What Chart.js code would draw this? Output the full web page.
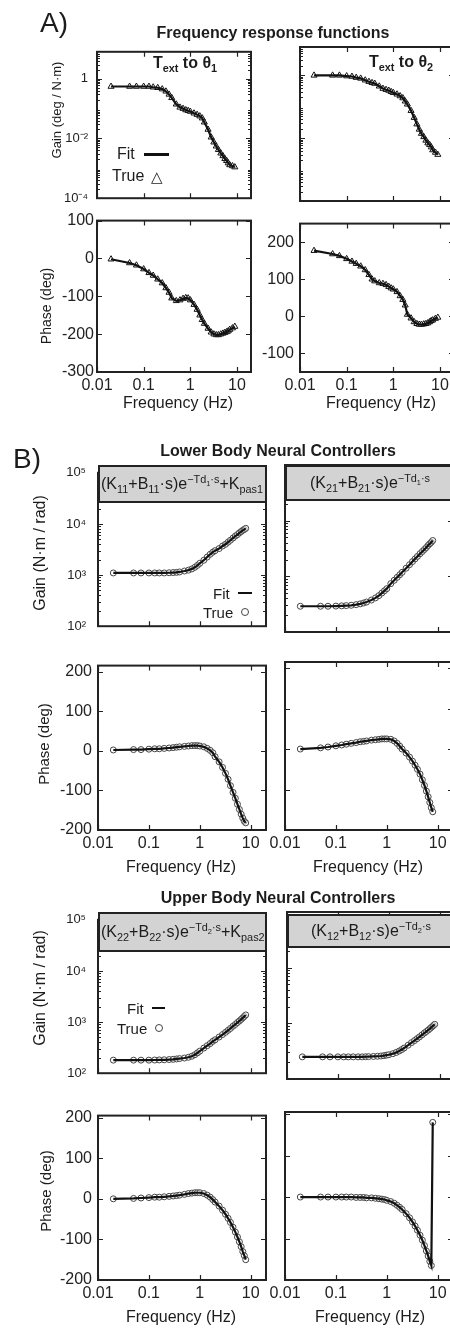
<!DOCTYPE html>
<html>
<head>
<meta charset="utf-8">
<title>Frequency response functions</title>
<script src="https://cdn.jsdelivr.net/npm/chart.js@4.4.1/dist/chart.umd.min.js"></script>
<style>
  html, body { margin: 0; padding: 0; background: #fff; }
  body { position: relative; width: 450px; height: 1328px; overflow: hidden;
         font-family: "Liberation Sans", Arial, sans-serif; color: #1c1c1c; }
  canvas { position: absolute; }
  .t { position: absolute; white-space: nowrap; line-height: 1; transform: translate(-50%, -50%); }
  .l { transform: translate(0, -50%); }
  .rot { transform: translate(-50%, -50%) rotate(-90deg); }
  .hd { position: absolute; box-sizing: border-box; border: 2px solid #222; background: #d3d3d3;
        overflow: hidden; white-space: nowrap; font-size: 16px; line-height: 1;
        display: flex; align-items: center; }
  sub, sup { font-size: 68%; line-height: 0; }
  .bar { position: absolute; background: #111; }
  .ring { position: absolute; box-sizing: border-box; border: 1.5px solid #444; border-radius: 50%; }
</style>
</head>
<body>
<script>
// ── data ──
const freqA = [0.02, 0.05, 0.07, 0.1, 0.13, 0.16, 0.2, 0.25, 0.3, 0.35, 0.4, 0.5, 0.6, 0.7, 0.8, 0.9, 1.0, 1.2, 1.4, 1.6, 1.8, 2.0, 2.4, 2.8, 3.2, 3.6, 4.0, 4.5, 5.0, 5.5, 6.0, 6.5, 7.0, 8.0, 9.0];
const freqB = [0.02, 0.05, 0.07, 0.1, 0.13, 0.16, 0.2, 0.25, 0.3, 0.35, 0.4, 0.5, 0.6, 0.7, 0.8, 0.9, 1.0, 1.2, 1.4, 1.6, 1.8, 2.0, 2.4, 2.8, 3.2, 3.6, 4.0, 4.5, 5.0, 5.5, 6.0, 6.5, 7.0, 7.5, 8.0];

const gainTheta1 = [0.55, 0.55, 0.55, 0.55, 0.55, 0.52, 0.5, 0.45, 0.38, 0.3, 0.23, 0.14, 0.11, 0.1, 0.09, 0.085, 0.08, 0.07, 0.063, 0.056, 0.048, 0.035, 0.02, 0.011, 0.0075, 0.0055, 0.0042, 0.0032, 0.0026, 0.0021, 0.0018, 0.0015, 0.0013, 0.0012, 0.0011];
const gainTheta2 = [1.0, 1.0, 1.0, 0.95, 0.92, 0.85, 0.8, 0.7, 0.63, 0.58, 0.55, 0.45, 0.38, 0.35, 0.33, 0.3, 0.28, 0.25, 0.22, 0.19, 0.15, 0.12, 0.075, 0.045, 0.028, 0.019, 0.014, 0.011, 0.0085, 0.007, 0.0062, 0.0052, 0.0042, 0.0035, 0.003];
const phaseTheta1 = [-2, -12, -18, -28, -38, -45, -55, -65, -78, -90, -105, -112, -110, -106, -104, -105, -110, -122, -135, -150, -162, -172, -185, -195, -200, -202, -202, -200, -198, -196, -194, -192, -188, -184, -180];
const phaseTheta2 = [177, 168, 163, 155, 148, 142, 135, 125, 112, 100, 95, 90, 88, 85, 80, 76, 73, 66, 55, 45, 30, 5, -5, -15, -20, -22, -22, -21, -20, -18, -15, -12, -10, -6, -3];

const gainK11 = [1100, 1100, 1100, 1100, 1100, 1100, 1100, 1110, 1120, 1130, 1150, 1200, 1250, 1320, 1420, 1550, 1700, 1950, 2250, 2550, 2800, 3000, 3300, 3700, 4000, 4400, 4800, 5300, 5800, 6200, 6700, 7100, 7500, 7800, 8200];
const gainK21 = [290, 290, 290, 292, 295, 298, 302, 310, 320, 332, 345, 375, 410, 450, 500, 550, 600, 740, 850, 960, 1070, 1180, 1400, 1620, 1840, 2060, 2280, 2550, 2800, 3050, 3300, 3600, 3850, 4100, 4400];
const phaseK11 = [2, 3, 3, 4, 5, 5, 6, 7, 8, 9, 10, 11, 12, 13, 13, 13, 12, 10, 6, 1, -5, -15, -28, -42, -57, -72, -88, -105, -120, -135, -148, -160, -170, -178, -182];
const phaseK21 = [0, 3, 5, 8, 10, 12, 14, 16, 18, 19, 20, 22, 23, 24, 25, 25, 25, 24, 20, 14, 7, 0, -10, -20, -30, -40, -50, -62, -76, -90, -104, -118, -132, -145, -155];

const gainK22 = [180, 180, 180, 180, 181, 182, 183, 185, 187, 190, 193, 198, 205, 215, 230, 250, 270, 310, 345, 380, 420, 450, 510, 570, 630, 690, 750, 830, 900, 980, 1050, 1130, 1210, 1290, 1380];
const gainK12 = [250, 250, 250, 250, 250, 250, 250, 250, 250, 251, 252, 254, 256, 259, 263, 268, 273, 285, 300, 318, 338, 360, 405, 450, 490, 530, 570, 620, 670, 715, 760, 810, 860, 910, 960];
const phaseK22 = [0, 1, 2, 3, 4, 4, 5, 6, 7, 8, 9, 11, 13, 14, 15, 15, 15, 13, 9, 4, -2, -8, -18, -28, -38, -48, -58, -70, -82, -94, -106, -118, -130, -140, -150];
const phaseK12 = [0, 0, 0, 0, 0, 0, 0, -1, -1, -1, -2, -2, -3, -4, -5, -6, -8, -11, -15, -20, -25, -30, -40, -50, -60, -70, -80, -92, -104, -117, -130, -142, -155, -165, 180];

// ── tick labels ──
const xTicks = [0.01, 0.1, 1, 10];
const xTickText = ['0.01', '0.1', '1', '10'];
const gainTicksA = [1e-4, 1e-2, 1];
const gainTextA = ['10⁻⁴', '10⁻²', '1'];
const gainTicksB = [1e2, 1e3, 1e4, 1e5];
const gainTextB = ['10²', '10³', '10⁴', '10⁵'];
const phaseTicksA1 = [-300, -200, -100, 0, 100];
const phaseTicksA2 = [-100, 0, 100, 200];
const phaseTicksB = [-200, -100, 0, 100, 200];

// ── axis setups ──
const axes = {
  gainA:   { type: 'logarithmic', min: 1e-4, max: 8,   ticks: gainTicksA,   text: gainTextA, pad: 9,  size: 13 },
  phaseA1: { type: 'linear',      min: -300, max: 100, ticks: phaseTicksA1, pad: 3,  size: 16 },
  phaseA2: { type: 'linear',      min: -150, max: 250, ticks: phaseTicksA2, pad: 6,  size: 16 },
  gainB:   { type: 'logarithmic', min: 100,  max: 1e5, ticks: gainTicksB,   text: gainTextB, pad: 12, size: 13 },
  phaseB1: { type: 'linear',      min: -200, max: 215, ticks: phaseTicksB,  pad: 6,  size: 16 },
  phaseB2: { type: 'linear',      min: -200, max: 205, ticks: phaseTicksB,  pad: 6,  size: 16 }
};

// plot boxes (page px)
const panels = [
  { L: 97,  T: 47,   R: 252, B: 201,  x: freqA, y: gainTheta1,  ax: 'gainA',   yLab: true,  xLab: false, mark: 'triangle' },
  { L: 300, T: 47,   R: 455, B: 201,  x: freqA, y: gainTheta2,  ax: 'gainA',   yLab: false, xLab: false, mark: 'triangle' },
  { L: 97,  T: 220,  R: 252, B: 372,  x: freqA, y: phaseTheta1, ax: 'phaseA1', yLab: true,  xLab: true,  mark: 'triangle' },
  { L: 300, T: 220,  R: 455, B: 372,  x: freqA, y: phaseTheta2, ax: 'phaseA2', yLab: true,  xLab: true,  mark: 'triangle' },
  { L: 98,  T: 465,  R: 267, B: 632,  x: freqB, y: gainK11,     ax: 'gainB',   yLab: true,  xLab: false, mark: 'circle' },
  { L: 285, T: 465,  R: 454, B: 632,  x: freqB, y: gainK21,     ax: 'gainB',   yLab: false, xLab: false, mark: 'circle' },
  { L: 98,  T: 662,  R: 267, B: 830,  x: freqB, y: phaseK11,    ax: 'phaseB1', yLab: true,  xLab: true,  mark: 'circle' },
  { L: 285, T: 662,  R: 454, B: 830,  x: freqB, y: phaseK21,    ax: 'phaseB1', yLab: false, xLab: true,  mark: 'circle' },
  { L: 98,  T: 912,  R: 267, B: 1079, x: freqB, y: gainK22,     ax: 'gainB',   yLab: true,  xLab: false, mark: 'circle' },
  { L: 287, T: 912,  R: 456, B: 1079, x: freqB, y: gainK12,     ax: 'gainB',   yLab: false, xLab: false, mark: 'circle' },
  { L: 98,  T: 1112, R: 267, B: 1280, x: freqB, y: phaseK22,    ax: 'phaseB2', yLab: true,  xLab: true,  mark: 'circle' },
  { L: 285, T: 1112, R: 454, B: 1280, x: freqB, y: phaseK12,    ax: 'phaseB2', yLab: false, xLab: true,  mark: 'circle' }
];

// box + inward ticks, MATLAB style
const framePlugin = {
  id: 'frame',
  afterDraw(chart) {
    const { ctx, chartArea: a, scales: { x, y } } = chart;
    ctx.save();
    ctx.strokeStyle = '#222';
    ctx.lineWidth = 1.2;
    ctx.beginPath();
    x.ticks.forEach(t => {
      const px = Math.round(x.getPixelForValue(t.value)) + 0.5;
      ctx.moveTo(px, a.bottom); ctx.lineTo(px, a.bottom - 5);
      ctx.moveTo(px, a.top); ctx.lineTo(px, a.top + 5);
    });
    y.ticks.forEach(t => {
      const py = Math.round(y.getPixelForValue(t.value)) + 0.5;
      ctx.moveTo(a.left, py); ctx.lineTo(a.left + 5, py);
      ctx.moveTo(a.right, py); ctx.lineTo(a.right - 5, py);
    });
    if (y.type === 'logarithmic') {
      const e0 = Math.floor(Math.log10(y.min)), e1 = Math.ceil(Math.log10(y.max));
      for (let e = e0; e <= e1; e++) {
        for (let k = 2; k <= 9; k++) {
          const v = k * Math.pow(10, e);
          if (v <= y.min || v >= y.max) continue;
          const py = Math.round(y.getPixelForValue(v)) + 0.5;
          ctx.moveTo(a.left, py); ctx.lineTo(a.left + 3, py);
          ctx.moveTo(a.right, py); ctx.lineTo(a.right - 3, py);
        }
      }
    }
    ctx.stroke();
    ctx.lineWidth = 2;
    ctx.strokeRect(a.left, a.top, a.right - a.left, a.bottom - a.top);
    ctx.restore();
  }
};

function makePanel(p) {
  const ax = axes[p.ax];
  const yw = p.yLab ? 70 : 40, pt = 12, pr = 4, xh = p.xLab ? 30 : 14;
  const w = yw + (p.R - p.L) + pr, h = pt + (p.B - p.T) + xh;
  const cv = document.createElement('canvas');
  cv.width = w; cv.height = h;
  cv.style.left = (p.L - yw) + 'px';
  cv.style.top = (p.T - pt) + 'px';
  cv.style.width = w + 'px';
  cv.style.height = h + 'px';
  document.body.appendChild(cv);
  const pts = p.x.map((f, i) => ({ x: f, y: p.y[i] }));
  new Chart(cv.getContext('2d'), {
    type: 'scatter',
    data: {
      datasets: [
        { label: 'Fit', data: pts, showLine: true, pointRadius: 0, borderColor: '#111', borderWidth: 2.2, tension: 0 },
        { label: 'True', data: pts, showLine: false, pointStyle: p.mark,
          pointRadius: p.mark === 'triangle' ? 3.5 : 3, borderWidth: 1,
          pointBorderColor: p.mark === 'triangle' ? '#111' : '#444', pointBackgroundColor: 'rgba(255,255,255,0.5)' }
      ]
    },
    options: {
      responsive: false, animation: false,
      layout: { padding: { top: pt, right: pr, left: 0, bottom: 0 } },
      plugins: { legend: { display: false }, tooltip: { enabled: false } },
      scales: {
        x: {
          type: 'logarithmic', min: 0.01, max: 20,
          grid: { display: false, drawTicks: false }, border: { display: false },
          afterBuildTicks: s => { s.ticks = xTicks.map(v => ({ value: v })); },
          afterFit: s => { s.height = xh; },
          ticks: { display: p.xLab, autoSkip: false, maxRotation: 0, padding: 4, color: '#222',
                   font: { size: 16, family: '"Liberation Sans", Arial, sans-serif' },
                   callback: v => xTickText[xTicks.indexOf(v)] }
        },
        y: {
          type: ax.type, min: ax.min, max: ax.max,
          grid: { display: false, drawTicks: false }, border: { display: false },
          afterBuildTicks: s => { s.ticks = ax.ticks.map(v => ({ value: v })); },
          afterFit: s => { s.width = yw; },
          ticks: { display: p.yLab, autoSkip: false, padding: ax.pad, color: '#222',
                   font: { size: ax.size, family: '"Liberation Sans", Arial, sans-serif' },
                   callback: v => ax.text ? ax.text[ax.ticks.indexOf(v)] : String(v) }
        }
      }
    },
    plugins: [framePlugin]
  });
}
panels.forEach(makePanel);

// ── text overlays ──
function txt(html, cx, cy, size, cls) {
  const d = document.createElement('div');
  d.className = 't' + (cls ? ' ' + cls : '');
  d.style.left = cx + 'px'; d.style.top = cy + 'px'; d.style.fontSize = size + 'px';
  d.innerHTML = html;
  document.body.appendChild(d);
  return d;
}
function header(html, L, T, W, H, center) {
  const d = document.createElement('div');
  d.className = 'hd';
  d.style.cssText += `left:${L}px;top:${T}px;width:${W}px;height:${H}px;justify-content:${center ? 'center' : 'flex-start'};padding-left:${center ? 0 : 1}px`;
  d.innerHTML = '<span>' + html + '</span>';
  document.body.appendChild(d);
}
function box(cls, L, T, W, H) {
  const d = document.createElement('div');
  d.className = cls;
  d.style.cssText += `left:${L}px;top:${T}px;width:${W}px;height:${H}px`;
  document.body.appendChild(d);
}

txt('A)', 54, 23, 28);
txt('B)', 27, 459, 28);
txt('<b>Frequency response functions</b>', 273, 33, 16);
txt('<b>Lower Body Neural Controllers</b>', 278, 451, 16);
txt('<b>Upper Body Neural Controllers</b>', 278, 898, 16);
txt('<b>T<sub>ext</sub> to θ<sub>1</sub></b>', 185, 63, 16);
txt('<b>T<sub>ext</sub> to θ<sub>2</sub></b>', 401, 62, 16);

txt('Gain (deg / N·m)', 56, 110, 13, 'rot');
txt('Phase (deg)', 46, 306, 14, 'rot');
txt('Gain (N·m / rad)', 40, 553, 16, 'rot');
txt('Phase (deg)', 43, 744, 15, 'rot');
txt('Gain (N·m / rad)', 40, 988, 16, 'rot');
txt('Phase (deg)', 45, 1191, 15, 'rot');

[[178, 403], [381, 403], [181, 867], [368, 867], [181, 1317], [370, 1317]]
  .forEach(([cx, cy]) => txt('Frequency (Hz)', cx, cy, 16));

header('(K<sub>11</sub>+B<sub>11</sub>·s)e<sup>−Td<sub>1</sub>·s</sup>+K<sub>pas1</sub>', 98, 465, 169, 38, false);
header('(K<sub>21</sub>+B<sub>21</sub>·s)e<sup>−Td<sub>1</sub>·s</sup>', 285, 465, 170, 36, true);
header('(K<sub>22</sub>+B<sub>22</sub>·s)e<sup>−Td<sub>2</sub>·s</sup>+K<sub>pas2</sub>', 98, 912, 169, 40, false);
header('(K<sub>12</sub>+B<sub>12</sub>·s)e<sup>−Td<sub>2</sub>·s</sup>', 287, 914, 168, 34, true);

// legends
txt('Fit', 117, 154, 16).style.transform = 'translate(0,-50%)';
box('bar', 144, 153, 25, 3);
txt('True', 112, 176, 16).style.transform = 'translate(0,-50%)';
txt('△', 157, 176, 15);

txt('Fit', 213, 593, 15).style.transform = 'translate(0,-50%)';
box('bar', 238, 592, 14, 2);
txt('True', 203, 612, 15).style.transform = 'translate(0,-50%)';
box('ring', 241, 608, 8, 8);

txt('Fit', 127, 1008, 15).style.transform = 'translate(0,-50%)';
box('bar', 152, 1007, 13, 2);
txt('True', 117, 1028, 15).style.transform = 'translate(0,-50%)';
box('ring', 155, 1024, 8, 8);
</script>
</body>
</html>
